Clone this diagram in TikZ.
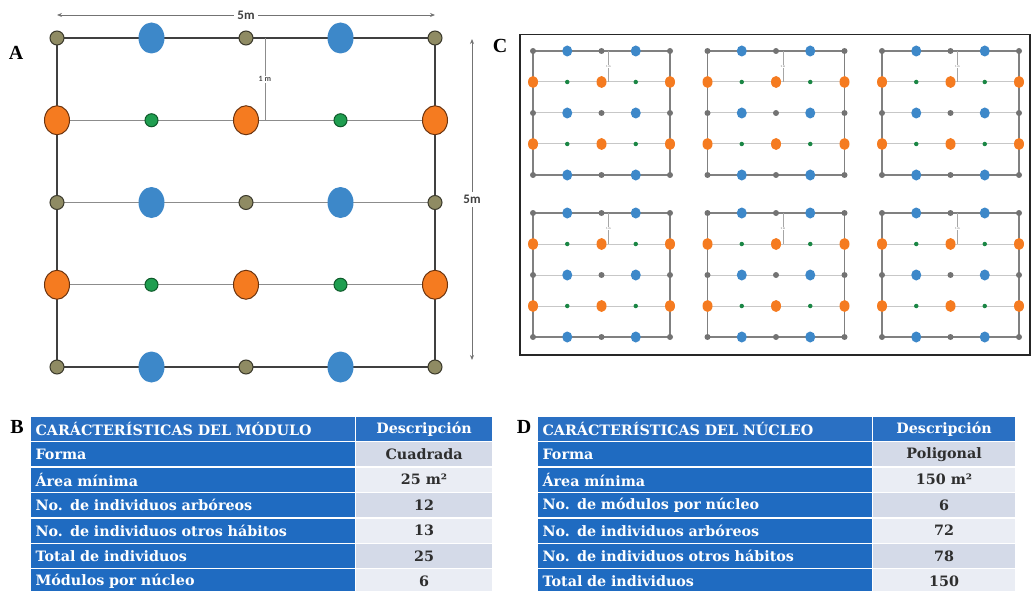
\documentclass[tikz,border=0pt]{standalone}
\usepackage{fontspec}
\setmainfont{Liberation Serif}
\newfontfamily\celdafont{DejaVu Serif}
\newfontfamily\cotafont{Carlito}
\usetikzlibrary{shapes.geometric,arrows.meta}

\definecolor{azulP}{HTML}{3D88C9}
\definecolor{naranja}{HTML}{F57B20}
\definecolor{naranjaB}{HTML}{6B3410}
\definecolor{oliva}{HTML}{8F8B63}
\definecolor{olivaB}{HTML}{3B3A2C}
\definecolor{verde}{HTML}{1F9E50}
\definecolor{verdeB}{HTML}{0F5B2B}
\definecolor{azulT}{HTML}{1F6BC1}
\definecolor{azulH}{HTML}{2A70C3}
\definecolor{grisA}{HTML}{D4DAE8}
\definecolor{grisB}{HTML}{EAEDF4}

\tikzset{
  % large module (panel A)
  frameA/.style={draw=black!75, line width=1.6pt},
  rowA/.style={draw=black!45, line width=1pt},
  olA/.style={circle, fill=oliva, draw=olivaB, line width=1pt, minimum size=14pt, inner sep=0pt},
  blA/.style={ellipse, fill=azulP, minimum width=26pt, minimum height=31pt, inner sep=0pt},
  orA/.style={ellipse, fill=naranja, draw=naranjaB, line width=1pt, minimum width=25pt, minimum height=29pt, inner sep=0pt},
  grA/.style={circle, fill=verde, draw=verdeB, line width=1pt, minimum size=13pt, inner sep=0pt},
  medA/.style={draw=black!45, line width=0.8pt},
  medlabA/.style={fill=white, inner sep=1pt, text=black!70, font=\cotafont\bfseries\fontsize{8}{8}\selectfont},
  % small modules (panel C)
  frameC/.style={draw=black!50, line width=1.4pt},
  rowC/.style={draw=black!22, line width=1pt},
  olC/.style={circle, fill=black!55, minimum size=6pt, inner sep=0pt},
  blC/.style={ellipse, fill=azulP, minimum width=10pt, minimum height=11pt, inner sep=0pt},
  orC/.style={ellipse, fill=naranja, minimum width=10pt, minimum height=12pt, inner sep=0pt},
  grC/.style={circle, fill=verde!85!black, minimum size=4.5pt, inner sep=0pt},
  medC/.style={draw=black!35, line width=0.4pt},
  medlabC/.style={fill=white, inner sep=0.3pt, text=black!60, font=\cotafont\fontsize{3}{3}\selectfont},
  % dimensions and panel letters
  dim/.style={draw=black!55, line width=0.8pt, {Stealth[length=5pt,width=4pt]}-{Stealth[length=5pt,width=4pt]}},
  dimlab/.style={fill=white, inner sep=3pt, text=black!75, font=\cotafont\bfseries\fontsize{13}{13}\selectfont},
  letra/.style={font=\bfseries\fontsize{20}{20}\selectfont, inner sep=0pt},
  % table cells
  celda/.style={draw=white, line width=1.2pt, inner sep=0pt, anchor=north west,
    font=\celdafont\bfseries\fontsize{14.3}{15}\selectfont},
}

% one planting module: #1 name, #2 left x, #3 top y, #4 column step, #5 row step, #6 style set
\newcommand\parcela[6]{%
  \foreach \r in {1,...,5}{\foreach \c in {1,...,5}{%
    \coordinate (#1-\r-\c) at ({#2+(\c-1)*#4},{#3+(\r-1)*#5});}}%
  \foreach \r in {2,3,4}{\draw[row#6] (#1-\r-1) -- (#1-\r-5);}%
  \draw[frame#6] (#1-1-1) -- (#1-1-5) -- (#1-5-5) -- (#1-5-1) -- cycle;
  \coordinate (#1-m1) at ({#2+2.2*#4},#3);
  \coordinate (#1-m2) at ({#2+2.2*#4},{#3+#5});
  \draw[med#6] (#1-m1) -- node[medlab#6] (#1-ml) {1 m} (#1-m2);
  \foreach \r in {1,3,5}{%
    \foreach \c in {1,3,5}{\node[ol#6] (#1-p\r\c) at (#1-\r-\c) {};}%
    \foreach \c in {2,4}{\node[bl#6] (#1-p\r\c) at (#1-\r-\c) {};}}%
  \foreach \r in {2,4}{%
    \foreach \c in {1,3,5}{\node[or#6] (#1-p\r\c) at (#1-\r-\c) {};}%
    \foreach \c in {2,4}{\node[gr#6] (#1-p\r\c) at (#1-\r-\c) {};}}%
}

% two-column table: #1 name, #2 left x, #3 split x, #4 right x, #5 rows label/value
\newcommand\tabla[5]{%
  \pgfmathsetmacro\anchoL{#3-#2}%
  \pgfmathsetmacro\anchoR{#4-#3}%
  \pgfmathsetmacro\textoL{#3-#2-10}%
  \foreach \etq/\val [count=\i from 0] in {#5}{%
    \pgfmathsetmacro\yy{415.5+25.45*\i}%
    \ifnum\i=0 \def\fondoL{azulH}\def\fondoR{azulH}\def\tinta{white}%
    \else\def\fondoL{azulT}\def\tinta{black!82}%
      \ifodd\i\def\fondoR{grisA}\else\def\fondoR{grisB}\fi\fi
    \node[celda, fill=\fondoL, text=white, minimum width=\anchoL pt, minimum height=25.45pt,
      text width=\textoL pt, align=left, inner xsep=5pt] (#1-\i-L) at (#2,\yy) {\etq};
    \node[celda, fill=\fondoR, text=\tinta, minimum width=\anchoR pt, minimum height=25.45pt,
      align=center] (#1-\i-R) at (#3,\yy) {\val};
  }%
}

\begin{document}
\begin{tikzpicture}[x=1pt,y=-1pt]
\useasboundingbox (0,0) rectangle (1031,591);

% ---------- A: one module ----------
\parcela{A}{57}{38}{94.5}{82.25}{A}
\node[letra] (labA) at (16,53) {A};
\coordinate (cotaH1) at (57,15);
\coordinate (cotaH2) at (435,15);
\draw[dim] (cotaH1) -- node[dimlab] (cotaH) {5m} (cotaH2);
\coordinate (cotaV1) at (472,39);
\coordinate (cotaV2) at (472,360);
\draw[dim] (cotaV1) -- node[dimlab] (cotaV) {5m} (cotaV2);

% ---------- C: six modules forming a core ----------
\node[letra] (labC) at (500,46) {C};
\node[draw=black!85, line width=1.5pt, minimum width=510pt, minimum height=320pt,
  anchor=north west, inner sep=0pt] (marcoC) at (519,34) {};
\foreach \fx [count=\k] in {533,707.5,882}{%
  \parcela{C1\k}{\fx}{51}{34.25}{31}{C}
  \parcela{C2\k}{\fx}{213}{34.25}{31}{C}
}

% ---------- B and D: tables ----------
\node[letra] (labB) at (17,427) {B};
\tabla{B}{30}{355}{492}{CARÁCTERÍSTICAS DEL MÓDULO/Descripción,
  Forma/Cuadrada,
  Área mínima/25 m²,
  No. de individuos arbóreos/12,
  No. de individuos otros hábitos/13,
  Total de individuos/25,
  Módulos por núcleo/6}

\node[letra] (labD) at (524,427) {D};
\tabla{D}{537}{872}{1015}{CARÁCTERÍSTICAS DEL NÚCLEO/Descripción,
  Forma/Poligonal,
  Área mínima/150 m²,
  No. de módulos por núcleo/6,
  No. de individuos arbóreos/72,
  No. de individuos otros hábitos/78,
  Total de individuos/150}
\end{tikzpicture}
\end{document}
